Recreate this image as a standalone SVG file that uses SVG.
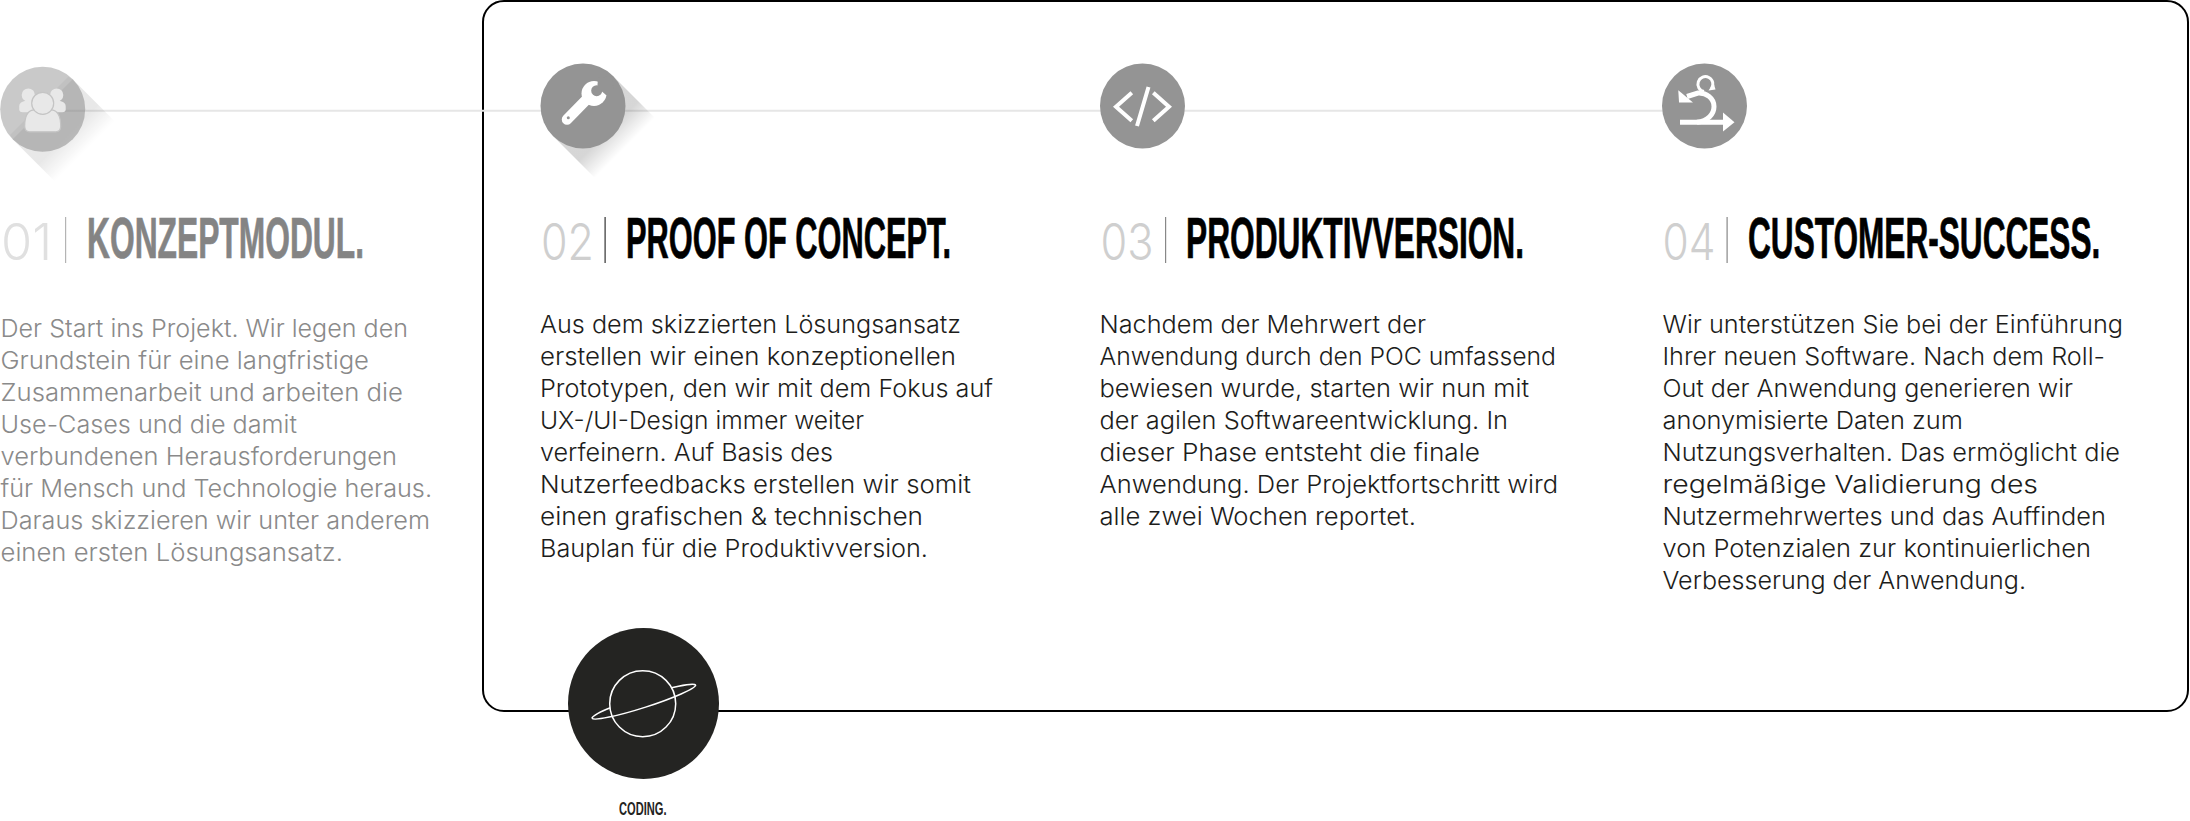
<svg xmlns="http://www.w3.org/2000/svg" width="2190" height="821" viewBox="0 0 2190 821">
<style>
.title{font-family:"Liberation Sans",Arial,sans-serif;font-weight:700;font-size:57px;fill:#000;stroke:#000;stroke-width:.7px}
.num{font-family:Inter,"Liberation Sans",sans-serif;font-weight:300;font-size:51px;fill:#cfcfcf}
.body{font-family:Inter,"Liberation Sans",sans-serif;font-weight:300;font-size:24px;fill:#1d1d1b}
.muted{fill:#8a8a8a}
.disc{fill:#949494}
.ico{fill:#fff}
.lin{fill:none;stroke:#fff;stroke-width:4}
</style>
<defs>
<linearGradient id="sh" gradientUnits="userSpaceOnUse" x1="0" y1="0" x2="42" y2="42"><stop offset="0.6" stop-color="#000" stop-opacity="0.16"/><stop offset="1" stop-color="#000" stop-opacity="0"/></linearGradient>
<linearGradient id="sh1" gradientUnits="userSpaceOnUse" x1="0" y1="0" x2="42" y2="42"><stop offset="0.6" stop-color="#000" stop-opacity="0.09"/><stop offset="1" stop-color="#000" stop-opacity="0"/></linearGradient>
<clipPath id="c1"><circle cx="0" cy="0" r="42.5"/></clipPath>
</defs>
<rect width="2190" height="821" fill="#fff"/>
<g id="frame"><rect x="483" y="1" width="1705" height="710" rx="21" fill="none" stroke="#000" stroke-width="2"/></g>
<g id="connectors"><line x1="63" y1="110.7" x2="1665" y2="110.7" stroke="#e6e6e6" stroke-width="2"/></g>

<g id="node-01">
<g transform="translate(42.7 109.3)">
<polygon points="30,-30 72,12 12,72 -30,30" fill="url(#sh1)"/>
<circle r="42.5" class="disc" fill-opacity="0.5"/>
<polygon clip-path="url(#c1)" points="25.6,-32.6 -32.7,25.7 -20,45 45,45 45,-20" fill="#000" fill-opacity="0.04"/>
<g fill="#e8e8e8" stroke="#c4c4c4" stroke-width="1.2">
<circle cx="-14.4" cy="-14.3" r="6.6" stroke="none"/>
<circle cx="14" cy="-14.3" r="6.6" stroke="none"/>
<path stroke="none" d="M-23.5 -3C-23.5 -7 -19 -8.5 -15 -8.5L-8 -8.5L-8 3L-20 3Q-23.5 3 -23.5 0Z"/>
<path stroke="none" d="M23 -3C23 -7 18.500 -8.500 14.500 -8.500L7.500 -8.500L7.500 3L19.500 3Q23 3 23 0Z"/>
<path d="M-18 17C-18 6 -14 1 -9 0.500L9 0.500C14 1 18 6 18 17Q18 22.500 13 22.500L-13 22.500Q-18 22.500 -18 17Z"/>
<circle cx="0" cy="-6" r="11"/>
</g>
</g>
<text class="num" style="fill:#e0e0e0" x="1" y="259.500" textLength="51" lengthAdjust="spacingAndGlyphs">01</text>
<rect x="65" y="217" width="1.200" height="46" fill="#b4b4b4"/>
<text class="title" style="fill:#848484;stroke:#848484" transform="translate(87 257.500) scale(.557 1)" textLength="497.300" lengthAdjust="spacingAndGlyphs">KONZEPTMODUL.</text>
<g class="body muted">
<text x="0.500" y="336.500" textLength="407.500" lengthAdjust="spacingAndGlyphs">Der Start ins Projekt. Wir legen den</text>
<text x="0.500" y="368.500" textLength="368.500" lengthAdjust="spacingAndGlyphs">Grundstein für eine langfristige</text>
<text x="0.500" y="400.500" textLength="402.500" lengthAdjust="spacingAndGlyphs">Zusammenarbeit und arbeiten die</text>
<text x="0.500" y="432.500" textLength="296.500" lengthAdjust="spacingAndGlyphs">Use-Cases und die damit</text>
<text x="0.500" y="464.500" textLength="396.500" lengthAdjust="spacingAndGlyphs">verbundenen Herausforderungen</text>
<text x="0.500" y="496.500" textLength="431.500" lengthAdjust="spacingAndGlyphs">für Mensch und Technologie heraus.</text>
<text x="0.500" y="528.500" textLength="429.500" lengthAdjust="spacingAndGlyphs">Daraus skizzieren wir unter anderem</text>
<text x="0.500" y="560.500" textLength="342.500" lengthAdjust="spacingAndGlyphs">einen ersten Lösungsansatz.</text>
</g>
</g>

<g id="node-02">
<g transform="translate(583 106)"><polygon points="30,-30 72,12 12,72 -30,30" fill="url(#sh)"/><circle r="42.5" class="disc"/></g>
<line x1="567" y1="119.500" x2="590" y2="96" stroke="#fff" stroke-width="10.500" stroke-linecap="round"/>
<circle cx="594" cy="93.500" r="12.500" class="ico"/>
<circle cx="596.700" cy="90.700" r="5.500" class="disc"/>
<polygon class="disc" points="597.500,85.200 598,78 612,76 614,95 606,95 602,91.500"/>
<circle cx="568.300" cy="117.700" r="1.500" class="disc"/>
<text class="num" x="541" y="259.500" textLength="53" lengthAdjust="spacingAndGlyphs">02</text>
<rect x="604.500" y="217" width="1.200" height="46" fill="#333"/>
<text class="title" transform="translate(626 257.500) scale(.5447 1)" textLength="596.700" lengthAdjust="spacingAndGlyphs">PROOF OF CONCEPT.</text>
<g class="body">
<text x="540" y="332.800" textLength="421" lengthAdjust="spacingAndGlyphs">Aus dem skizzierten Lösungsansatz</text>
<text x="540" y="364.800" textLength="416" lengthAdjust="spacingAndGlyphs">erstellen wir einen konzeptionellen</text>
<text x="540" y="396.800" textLength="453" lengthAdjust="spacingAndGlyphs">Prototypen, den wir mit dem Fokus auf</text>
<text x="540" y="428.800" textLength="324" lengthAdjust="spacingAndGlyphs">UX-/UI-Design immer weiter</text>
<text x="540" y="460.800" textLength="293" lengthAdjust="spacingAndGlyphs">verfeinern. Auf Basis des</text>
<text x="540" y="492.800" textLength="431" lengthAdjust="spacingAndGlyphs">Nutzerfeedbacks erstellen wir somit</text>
<text x="540" y="524.800" textLength="383" lengthAdjust="spacingAndGlyphs">einen grafischen &amp; technischen</text>
<text x="540" y="556.800" textLength="388" lengthAdjust="spacingAndGlyphs">Bauplan für die Produktivversion.</text>
</g>
</g>

<g id="node-03">
<circle cx="1142.500" cy="106" r="42.5" class="disc"/>
<path class="lin" d="M1131.800 92.700L1116 106.700L1131.800 120.700M1153.300 92.700L1169 106.700L1153.300 120.700M1148.500 87L1137 126"/>
<text class="num" x="1100.500" y="259.500" textLength="53" lengthAdjust="spacingAndGlyphs">03</text>
<rect x="1165" y="217" width="1.200" height="46" fill="#888"/>
<text class="title" transform="translate(1186 257.500) scale(.556 1)" textLength="608" lengthAdjust="spacingAndGlyphs">PRODUKTIVVERSION.</text>
<g class="body">
<text x="1099.500" y="332.800" textLength="326.500" lengthAdjust="spacingAndGlyphs">Nachdem der Mehrwert der</text>
<text x="1099.500" y="364.800" textLength="456.500" lengthAdjust="spacingAndGlyphs">Anwendung durch den POC umfassend</text>
<text x="1099.500" y="396.800" textLength="429.500" lengthAdjust="spacingAndGlyphs">bewiesen wurde, starten wir nun mit</text>
<text x="1099.500" y="428.800" textLength="408.500" lengthAdjust="spacingAndGlyphs">der agilen Softwareentwicklung. In</text>
<text x="1099.500" y="460.800" textLength="380.500" lengthAdjust="spacingAndGlyphs">dieser Phase entsteht die finale</text>
<text x="1099.500" y="492.800" textLength="458.500" lengthAdjust="spacingAndGlyphs">Anwendung. Der Projektfortschritt wird</text>
<text x="1099.500" y="524.800" textLength="316.500" lengthAdjust="spacingAndGlyphs">alle zwei Wochen reportet.</text>
</g>
</g>

<g id="node-04">
<circle cx="1704.500" cy="106" r="42.5" class="disc"/>
<path class="lin" style="stroke-width:5" d="M1680 122.300L1724 122.300"/>
<polygon class="ico" points="1723,112.500 1734.500,122.300 1723,131.500"/>
<path class="lin" style="stroke-width:5" d="M1697 122.300C1708 121 1714 114 1714 106.500C1714 98 1706 92.500 1698 93L1687 96.500"/>
<polygon class="ico" points="1678.300,90.200 1679,102.500 1693,102.500"/>
<path class="lin" style="stroke-width:3" d="M1711.500 88.500A7.500 7.500 0 1 0 1704 91.500"/>
<polygon class="ico" points="1708.500,90.500 1715.500,89.500 1713.500,83"/>
<text class="num" x="1662.500" y="259.500" textLength="53" lengthAdjust="spacingAndGlyphs">04</text>
<rect x="1726.500" y="217" width="1.200" height="46" fill="#888"/>
<text class="title" transform="translate(1748 257.500) scale(.5535 1)" textLength="636.500" lengthAdjust="spacingAndGlyphs">CUSTOMER-SUCCESS.</text>
<g class="body">
<text x="1662.500" y="332.800" textLength="460.500" lengthAdjust="spacingAndGlyphs">Wir unterstützen Sie bei der Einführung</text>
<text x="1662.500" y="364.800" textLength="442.500" lengthAdjust="spacingAndGlyphs">Ihrer neuen Software. Nach dem Roll-</text>
<text x="1662.500" y="396.800" textLength="410.500" lengthAdjust="spacingAndGlyphs">Out der Anwendung generieren wir</text>
<text x="1662.500" y="428.800" textLength="300.500" lengthAdjust="spacingAndGlyphs">anonymisierte Daten zum</text>
<text x="1662.500" y="460.800" textLength="457.500" lengthAdjust="spacingAndGlyphs">Nutzungsverhalten. Das ermöglicht die</text>
<text x="1662.500" y="492.800" textLength="375.500" lengthAdjust="spacingAndGlyphs">regelmäßige Validierung des</text>
<text x="1662.500" y="524.800" textLength="443.500" lengthAdjust="spacingAndGlyphs">Nutzermehrwertes und das Auffinden</text>
<text x="1662.500" y="556.800" textLength="428.500" lengthAdjust="spacingAndGlyphs">von Potenzialen zur kontinuierlichen</text>
<text x="1662.500" y="588.800" textLength="363.500" lengthAdjust="spacingAndGlyphs">Verbesserung der Anwendung.</text>
</g>
</g>

<g id="node-coding">
<circle cx="643.500" cy="703.500" r="75.500" fill="#242422"/>
<g fill="none" stroke="#fff" stroke-width="1.500">
<path d="M592 718.300A54.500 6 -17.800 0 1 695.700 685"/>
<circle cx="642.700" cy="703.700" r="33" fill="#242422"/>
<path d="M592 718.300A54.500 6 -17.800 0 0 695.700 685"/>
</g>
<text transform="translate(619 815) scale(.585 1)" style="font-family:'Liberation Sans',sans-serif;font-weight:700;font-size:19px;fill:#242422">CODING.</text>
</g>
</svg>
